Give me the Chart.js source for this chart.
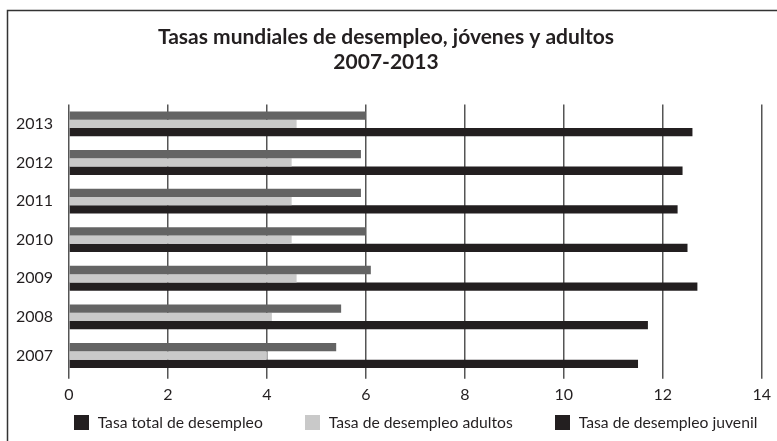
<!DOCTYPE html>
<html lang="es">
<head>
<meta charset="utf-8">
<title>Tasas mundiales de desempleo</title>
<script src="https://cdn.jsdelivr.net/npm/chart.js@4/dist/chart.umd.min.js"></script>
<style>
  html, body { margin: 0; padding: 0; background: #fff; }
  #wrap { position: relative; width: 777px; height: 441px; overflow: hidden; }
  #legend {
    position: absolute; left: 67px; width: 697px; top: 413px; height: 18px;
    display: flex; justify-content: center; align-items: center; gap: 42px;
    font-family: Lato, "Open Sans", sans-serif; font-size: 15.7px; color: #231f20;
  }
  #legend .item { display: flex; align-items: center; gap: 9px; white-space: nowrap; }
  #legend .box { width: 15px; height: 15px; }
</style>
</head>
<body>
<div id="wrap">
  <canvas id="chart" width="777" height="441"></canvas>
  <div id="legend"></div>
</div>
<script>
// ── Data ──────────────────────────────────────────────────────────────────────
const YEARS   = ['2013', '2012', '2011', '2010', '2009', '2008', '2007'];
const TOTAL   = [6.0, 5.9, 5.9, 6.0, 6.1, 5.5, 5.4];
const ADULTS  = [4.6, 4.5, 4.5, 4.5, 4.6, 4.1, 4.0];
const YOUTH   = [12.6, 12.4, 12.3, 12.5, 12.7, 11.7, 11.5];
const SERIES_LABELS = ['Tasa total de desempleo', 'Tasa de desempleo adultos', 'Tasa de desempleo juvenil'];
const TITLE_LINES = ['Tasas mundiales de desempleo, jóvenes y adultos', '2007-2013'];

const FONT = 'Lato, "Open Sans", sans-serif';
const INK  = '#231f20';

// ── Frame around the figure ───────────────────────────────────────────────────
const framePlugin = {
  id: 'frame',
  beforeDraw(chart) {
    const { ctx } = chart;
    ctx.save();
    ctx.strokeStyle = '#333';
    ctx.lineWidth = 1.5;
    ctx.strokeRect(7.5, 10.5, 900, 600);
    ctx.restore();
  },
};

// ── Legend (HTML, built from the datasets) ────────────────────────────────────
function buildLegend(chart) {
  const el = document.getElementById('legend');
  el.innerHTML = '';
  chart.data.datasets.forEach(ds => {
    const item = document.createElement('div');
    item.className = 'item';
    const box = document.createElement('span');
    box.className = 'box';
    box.style.background = ds.legendColor;
    const txt = document.createElement('span');
    txt.textContent = ds.label;
    item.append(box, txt);
    el.append(item);
  });
}

const chart = new Chart(document.getElementById('chart').getContext('2d'), {
  type: 'bar',
  data: {
    labels: YEARS,
    datasets: [
      { label: SERIES_LABELS[0], data: TOTAL,  backgroundColor: '#646464', legendColor: INK },
      { label: SERIES_LABELS[1], data: ADULTS, backgroundColor: '#c9c9c9', legendColor: '#c9c9c9' },
      { label: SERIES_LABELS[2], data: YOUTH,  backgroundColor: INK,       legendColor: INK },
    ],
  },
  plugins: [framePlugin],
  options: {
    indexAxis: 'y',
    responsive: false,
    animation: false,
    datasets: {
      bar: { categoryPercentage: 0.643, barPercentage: 1, borderWidth: 0 },
    },
    layout: { padding: { left: 0, right: 5, top: 0, bottom: 31 } },
    plugins: {
      title: {
        display: true,
        text: TITLE_LINES,
        color: INK,
        font: { family: FONT, size: 21, weight: 'bold', lineHeight: 1.18 },
        padding: { top: 25, bottom: 30 },
      },
      legend: { display: false },
      tooltip: { enabled: false },
    },
    scales: {
      x: {
        min: 0,
        max: 14,
        ticks: {
          stepSize: 2,
          color: INK,
          font: { family: FONT, size: 16 },
          padding: 6,
        },
        grid: { color: '#555', lineWidth: 1.5, tickLength: 4 },
        border: { display: false },
      },
      y: {
        ticks: {
          color: INK,
          font: { family: FONT, size: 16 },
          padding: 16,
        },
        grid: { display: false, drawTicks: false },
        border: { display: false },
        afterFit: scale => { scale.width = 69; },
      },
    },
  },
});

buildLegend(chart);
</script>
</body>
</html>
